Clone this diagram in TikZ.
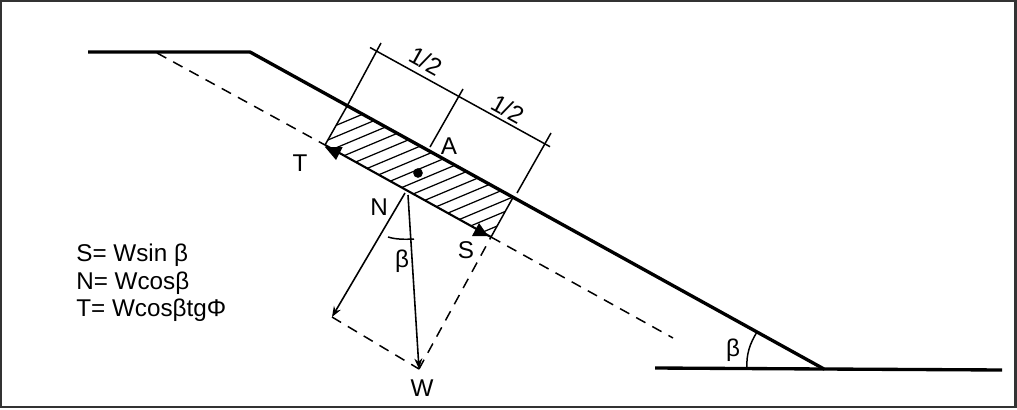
\documentclass[tikz,border=0pt]{standalone}
\usepackage{fontspec}
\usetikzlibrary{arrows.meta}
\setmainfont{Liberation Sans}
\tikzset{
    lbl/.style={inner sep=0pt,font=\fontsize{13.8}{16}\selectfont},
    ground/.style={line width=1.9pt},
    thin line/.style={line width=0.85pt},
    dash line/.style={line width=0.85pt,dash pattern=on 6pt off 4.5pt},
    force/.style={line width=0.9pt,-{Stealth[length=6pt,width=4.5pt]}},
    hatch/.style={line width=0.7pt},
    head/.style={fill=black,draw=none}
}
\begin{document}
\begin{tikzpicture}[x=0.02cm,y=-0.02cm]
    \useasboundingbox (0,0) rectangle (1017,409);
    \draw[line width=1.5pt,color=black!80] (1,1) rectangle (1015.5,407);
    % slope profile
    \coordinate (G1) at (88,52);
    \coordinate (G2) at (250,52);
    \coordinate (G3) at (824,369);
    \coordinate (G4) at (1002,370);
    \coordinate (G5) at (655,368);
    \draw[ground] (G1) -- (G2) -- (G3) -- (G4);
    \draw[ground] (G5) -- (G3);
    % slice
    \coordinate (TL) at (346.7,106.7);
    \coordinate (TR) at (512.7,198);
    \coordinate (BL) at (325,145);
    \coordinate (BR) at (491,237);
    \begin{scope}
        \clip (TL) -- (TR) -- (BR) -- (BL) -- cycle;
        \foreach \k in {-3,...,13}
            \draw[hatch] ({343.3+11.6*\k},{156+6.35*\k}) -- ++(200,-84) ++(-200,84) -- ++(-50,21);
    \end{scope}
    \draw[line width=1.2pt] (BL) -- (BR);
    \draw[thin line] (TL) -- (BL);
    \draw[thin line] (TR) -- (BR);
    % failure plane
    \coordinate (D1) at (157,53);
    \coordinate (D2) at (673,338);
    \draw[dash line] (D1) -- (BL);
    \draw[dash line] (BR) -- (D2);
    % dimension lines
    \coordinate (L1) at (381,43);
    \coordinate (L2) at (430,147);
    \coordinate (L3) at (463,89);
    \coordinate (L4) at (517,193);
    \coordinate (L5) at (551,133);
    \coordinate (M1) at (370,47.5);
    \coordinate (M2) at (550,146.7);
    \draw[thin line] (TL) -- (L1);
    \draw[thin line] (L2) -- (L3);
    \draw[thin line] (L4) -- (L5);
    \draw[thin line] (M1) -- (M2);
    % forces
    \coordinate (N0) at (405,193);
    \coordinate (N1) at (332,317);
    \coordinate (W0) at (408,195);
    \coordinate (W1) at (419,369);
    \draw[force] (N0) -- (N1);
    \draw[force] (W0) -- (W1);
    \draw[dash line] (N1) -- (W1);
    \draw[dash line] (W1) -- (BR);
    % arrow heads on the plane
    \fill[head] (325,147) -- (342.7,147) -- (336,160) -- cycle;
    \fill[head] (479,223) -- (472,236) -- (488,236) -- cycle;
    % centre of slice
    \node[circle,fill=black,inner sep=0pt,minimum size=5.5pt] (C) at (418,173) {};
    % angles
    \coordinate (A1) at (388,237);
    \coordinate (A2) at (414,239);
    \coordinate (A3) at (747,368);
    \coordinate (A4) at (757,332);
    \draw[thin line] (A1) .. controls (396,239.5) and (405,239.5) .. (A2);
    \draw[thin line] (A3) .. controls (746,355) and (750,343) .. (A4);
    % labels
    \node[lbl] (T) at (300,163) {T};
    \node[lbl] (A) at (449,146) {A};
    \node[lbl] (N) at (379,207) {N};
    \node[lbl] (S) at (466,250) {S};
    \node[lbl] (W) at (422,388) {W};
    \node[lbl] (b1) at (402,261) {β};
    \node[lbl] (b2) at (733,350) {β};
    \node[lbl,rotate=-29] (h1) at (426,61) {1/2};
    \node[lbl,rotate=-29] (h2) at (508,109) {1/2};
    \node[lbl,anchor=base west] (e1) at (76,261) {S= Wsin β};
    \node[lbl,anchor=base west] (e2) at (76,289) {N= Wcosβ};
    \node[lbl,anchor=base west] (e3) at (76,316) {T= WcosβtgΦ};
\end{tikzpicture}
\end{document}
